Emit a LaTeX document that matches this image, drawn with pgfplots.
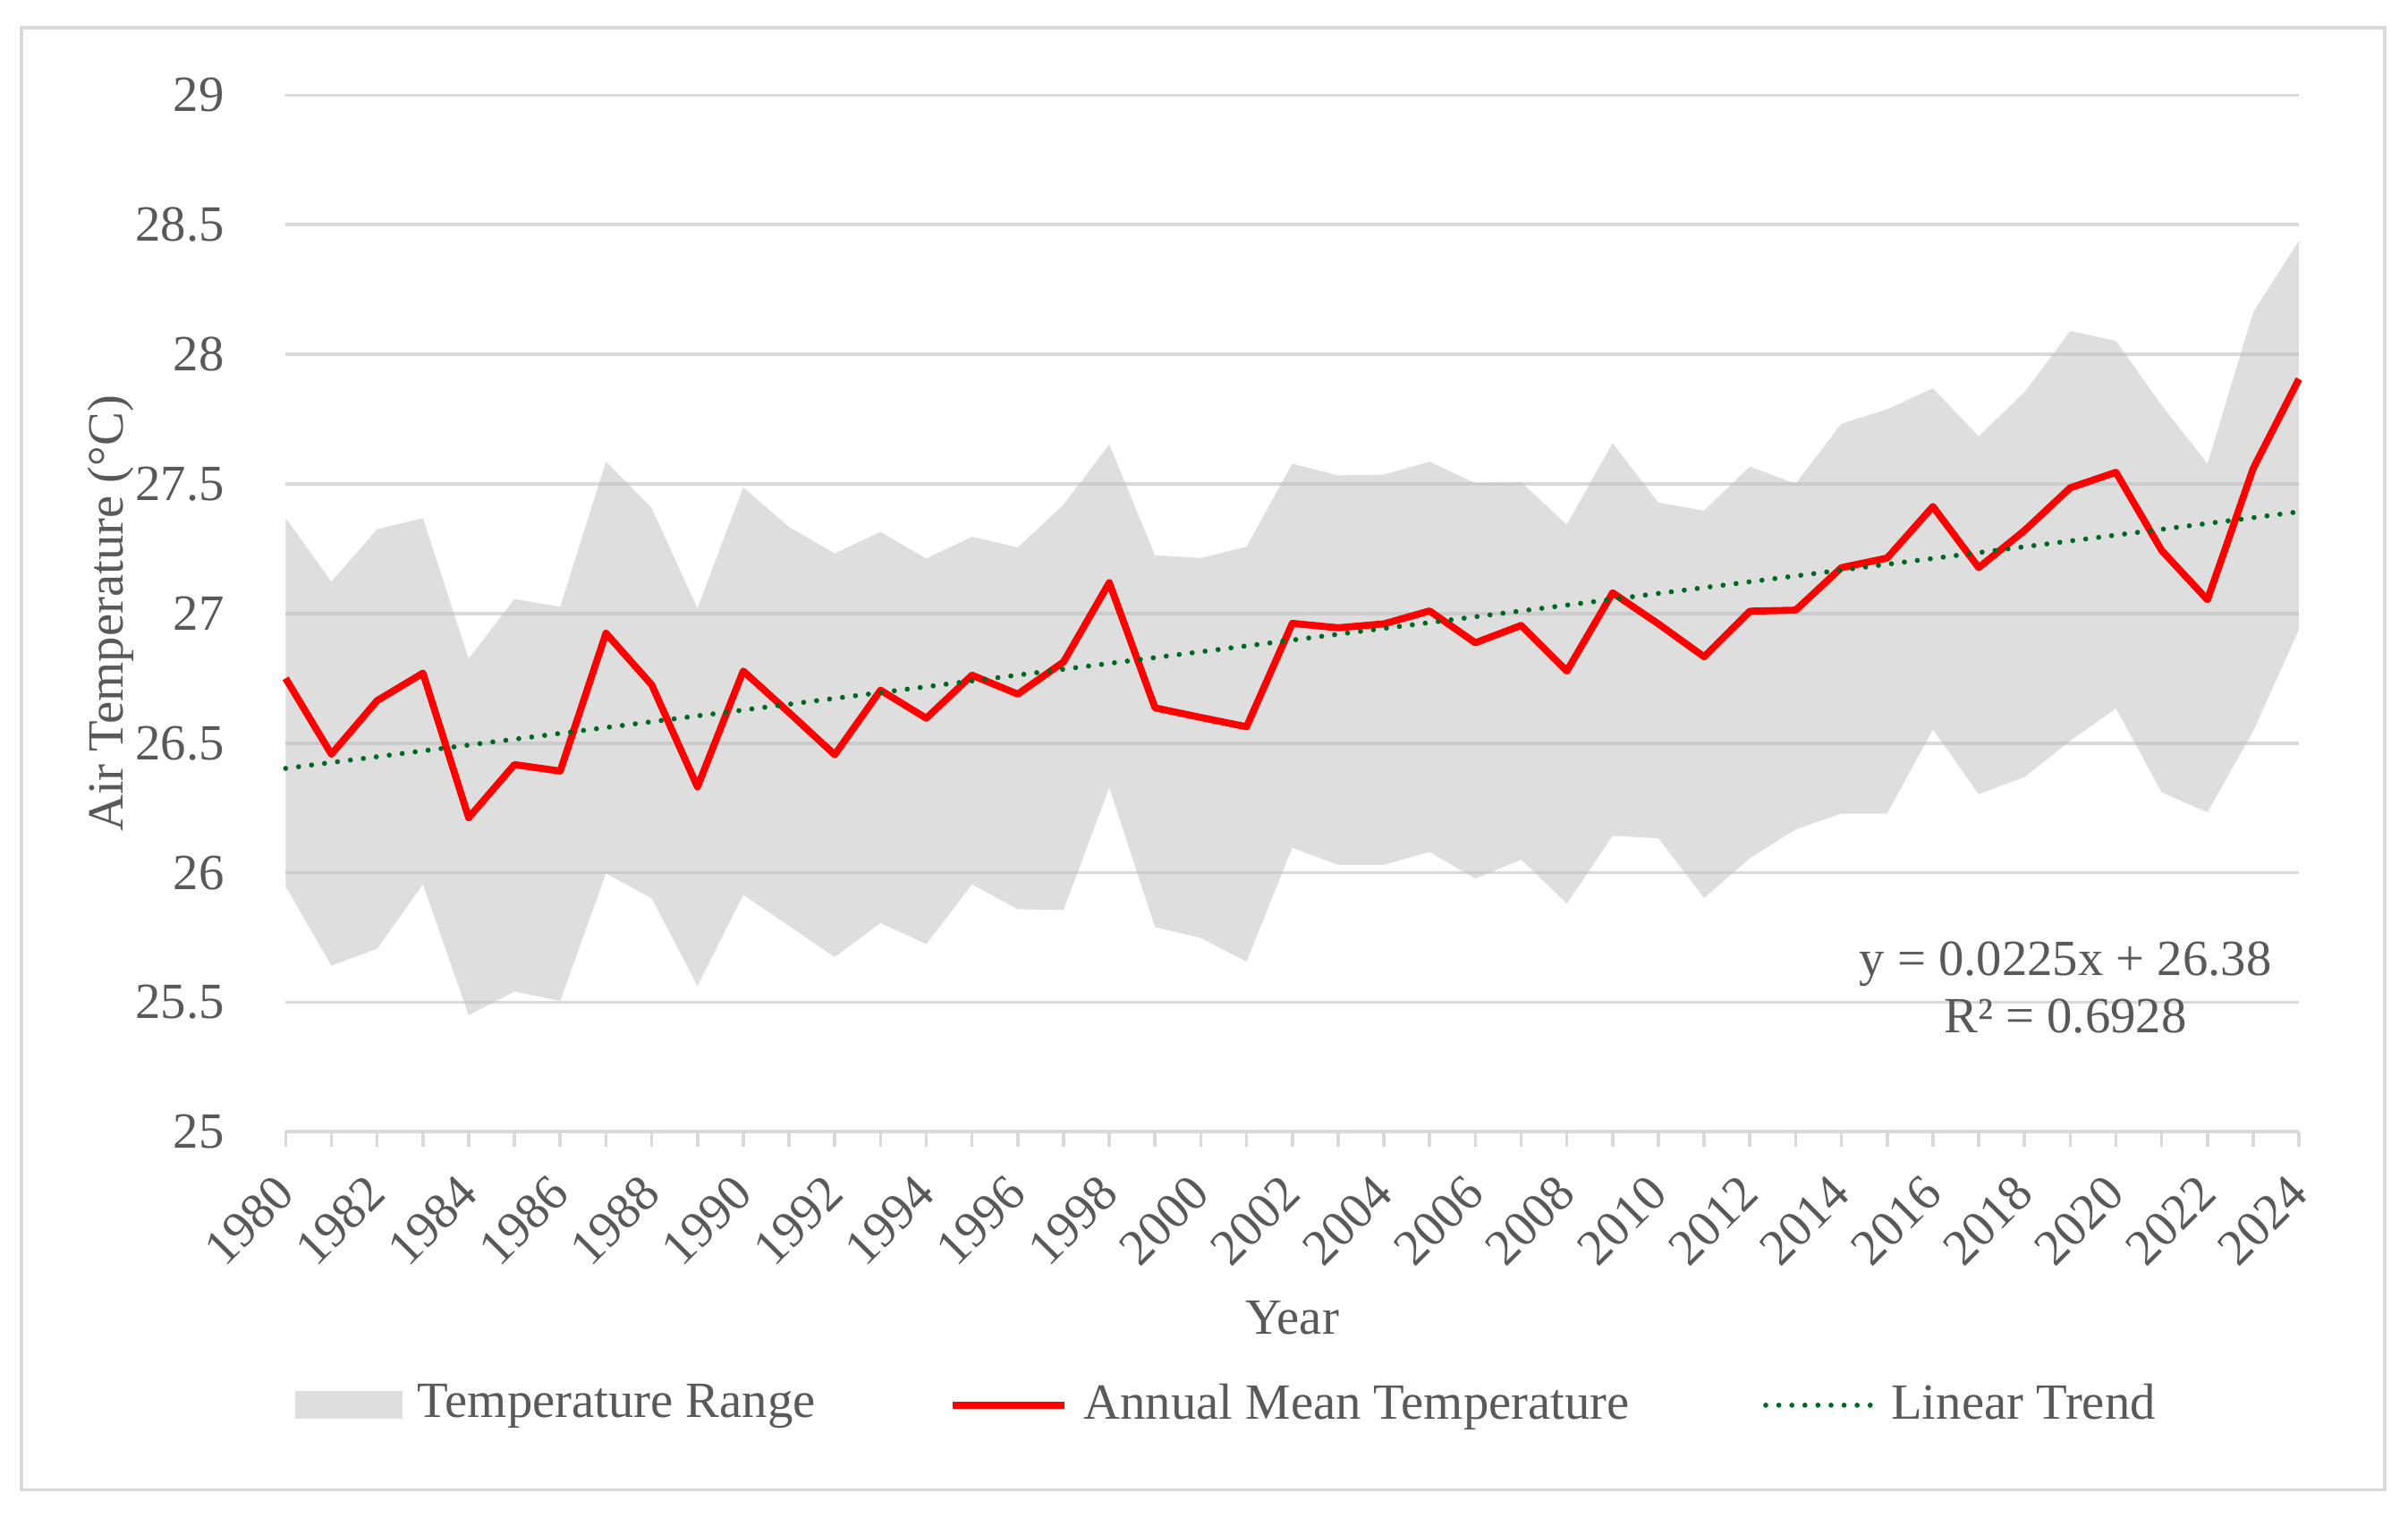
\documentclass[border=0pt]{standalone}
\usepackage{fontspec}
\setmainfont{Liberation Serif}
\usepackage{pgfplots}
\usepgfplotslibrary{fillbetween}
\usepackage{pgfplotstable}
\pgfplotsset{compat=1.18}
\definecolor{textgray}{RGB}{89,89,89}
\definecolor{gridgray}{RGB}{217,217,217}
\definecolor{areagray}{RGB}{190,190,190}
\definecolor{trendgreen}{RGB}{0,104,32}
\newcommand{\myfont}{\fontsize{9.4}{10.5}\selectfont}
\pgfplotstableread{
year lo mean hi
1980 25.947 26.750 27.368
1981 25.641 26.457 27.123
1982 25.707 26.664 27.325
1983 25.955 26.770 27.368
1984 25.450 26.212 26.825
1985 25.541 26.417 27.056
1986 25.505 26.392 27.026
1987 25.997 26.924 27.586
1988 25.901 26.725 27.407
1989 25.563 26.331 27.020
1990 25.914 26.778 27.487
1991 25.795 26.618 27.334
1992 25.674 26.455 27.232
1993 25.806 26.704 27.315
1994 25.724 26.596 27.212
1995 25.955 26.762 27.296
1996 25.859 26.689 27.255
1997 25.856 26.813 27.420
1998 26.328 27.119 27.652
1999 25.790 26.636 27.225
2000 25.748 26.599 27.214
2001 25.657 26.563 27.258
2002 26.096 26.962 27.578
2003 26.030 26.945 27.533
2004 26.030 26.960 27.536
2005 26.080 27.010 27.586
2006 25.977 26.887 27.503
2007 26.050 26.954 27.507
2008 25.881 26.778 27.343
2009 26.142 27.080 27.657
2010 26.133 26.960 27.428
2011 25.902 26.833 27.397
2012 26.056 27.009 27.567
2013 26.167 27.013 27.501
2014 26.228 27.177 27.732
2015 26.228 27.214 27.788
2016 26.553 27.413 27.869
2017 26.303 27.177 27.684
2018 26.369 27.320 27.854
2019 26.508 27.485 28.090
2020 26.634 27.545 28.052
2021 26.310 27.243 27.803
2022 26.233 27.053 27.578
2023 26.546 27.560 28.163
2024 26.938 27.905 28.438
}\datatable
\pgfplotstableread{
year trend
1980 26.4025
2024 27.3925
}\trendtable
\begin{document}
\begin{tikzpicture}[x=1cm,y=1cm]
\path (0,0) rectangle (15.68,9.88);
\draw[gridgray, line width=0.6pt] (0.14,0.18) rectangle (15.53,9.70);
\begin{axis}[
  at={(1.86cm,2.51cm)}, anchor=south west,
  scale only axis, width=13.11cm, height=6.75cm,
  xmin=1980, xmax=2024, ymin=25, ymax=29,
  clip=false,
  axis x line*=bottom, axis y line*=left,
  y axis line style={draw=none},
  x axis line style={gridgray, line width=0.6pt},
  xtick={1980,1982,...,2024},
  minor xtick={1981,1983,...,2023},
  ytick={25,25.5,...,29},
  tick align=outside,
  major x tick style={gridgray, line width=0.6pt},
  minor x tick style={gridgray, line width=0.6pt},
  major tick length=0.096cm, minor tick length=0.096cm,
  y tick style={draw=none},
  ymajorgrids, grid style={gridgray, line width=0.6pt},
  /pgf/number format/assume math mode=true,
  /pgf/number format/1000 sep={},
  every tick label/.append style={font=\myfont, text=textgray},
  yticklabel style={xshift=-0.18cm},
  xticklabel style={inner sep=0pt, yshift=-0.244cm, rotate=45, anchor=east},
  every axis x label/.style={at={(axis description cs:0.5,-0.179)}, anchor=center},
  every axis y label/.style={at={(axis description cs:-0.087,0.5)}, rotate=90, anchor=center},
  label style={font=\myfont, text=textgray},
  xlabel={Year},
  ylabel={Air Temperature (°C)},
  legend columns=3,
  legend cell align=left,
  legend style={at={(axis description cs:0.00458,-0.2637)}, anchor=west,
    draw=none, fill=none, inner sep=0pt, outer sep=0pt,
    font=\myfont, text=textgray,
    nodes={inner sep=0pt},
    /tikz/every odd column/.append style={column sep=0.1cm},
    /tikz/every even column/.append style={column sep=0.87cm}},
]
\addplot[name path=up, draw=none, forget plot] table[x=year, y=hi] {\datatable};
\addplot[name path=lo, draw=none, forget plot] table[x=year, y=lo] {\datatable};
\addplot[fill=areagray, fill opacity=0.5, draw=none,
  area legend,
  legend image code/.code={\fill[areagray, fill opacity=0.5] (0cm,-0.09cm) rectangle (0.7cm,0.09cm);}]
  fill between[of=up and lo];
\addlegendentry{Temperature Range}
\addplot[red, line width=1.3pt, line join=round,
  legend image code/.code={\draw[red, line width=1.3pt] (0cm,0cm) -- (0.73cm,0cm);}]
  table[x=year, y=mean] {\datatable};
\addlegendentry{Annual Mean Temperature}
\addplot[trendgreen, line width=0.95pt, line cap=round, dash pattern=on 0pt off 0.085cm,
  legend image code/.code={\draw[trendgreen, line width=0.95pt, line cap=round, dash pattern=on 0pt off 0.085cm] (0.02cm,0cm) -- (0.72cm,0cm);}]
  table[x=year, y=trend] {\trendtable};
\addlegendentry{Linear Trend}
\node[anchor=center, align=center, text=textgray, font=\myfont, inner sep=0pt]
  at (axis description cs:0.884,0.139) {y = 0.0225x + 26.38\\R² = 0.6928};
\end{axis}
\end{tikzpicture}
\end{document}
